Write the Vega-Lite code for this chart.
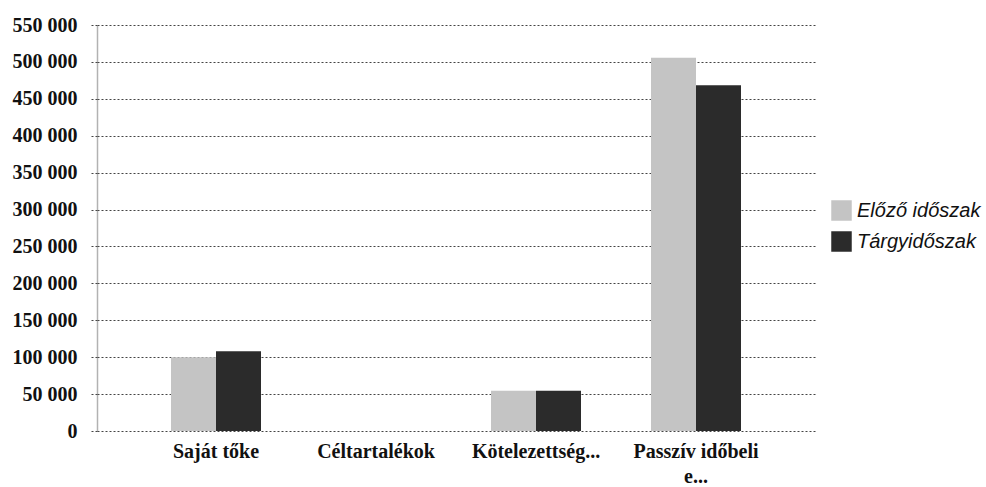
{
  "$schema": "https://vega.github.io/schema/vega-lite/v6.json",
  "width": 718,
  "height": 406,
  "autosize": {"type": "none"},
  "padding": {"left": 97, "top": 25, "right": 171, "bottom": 56},
  "background": "white",
  "config": {"view": {"stroke": null}},
  "data": {"values": [
    {"kategoria": "Saját tőke", "idoszak": "Előző időszak", "ertek": 100000},
    {"kategoria": "Saját tőke", "idoszak": "Tárgyidőszak", "ertek": 108000},
    {"kategoria": "Céltartalékok", "idoszak": "Előző időszak", "ertek": 0},
    {"kategoria": "Céltartalékok", "idoszak": "Tárgyidőszak", "ertek": 0},
    {"kategoria": "Kötelezettség...", "idoszak": "Előző időszak", "ertek": 54500},
    {"kategoria": "Kötelezettség...", "idoszak": "Tárgyidőszak", "ertek": 54500},
    {"kategoria": "Passzív időbeli e...", "idoszak": "Előző időszak", "ertek": 505500},
    {"kategoria": "Passzív időbeli e...", "idoszak": "Tárgyidőszak", "ertek": 468500}
  ]},
  "mark": {"type": "bar"},
  "encoding": {
    "x": {
      "field": "kategoria", "type": "nominal", "sort": null,
      "scale": {"paddingInner": 0.4375, "paddingOuter": 0.4625},
      "axis": {
        "title": null, "labelAngle": 0, "domain": false, "ticks": false,
        "labelFont": "Liberation Serif", "labelFontWeight": "bold", "labelFontSize": 20,
        "labelColor": "#111", "labelPadding": 10, "labelLineHeight": 25,
        "labelExpr": "datum.label == 'Passzív időbeli e...' ? ['Passzív időbeli', 'e...'] : datum.label"
      }
    },
    "xOffset": {"field": "idoszak", "type": "nominal", "sort": ["Előző időszak", "Tárgyidőszak"]},
    "y": {
      "field": "ertek", "type": "quantitative",
      "scale": {"domain": [0, 550000], "nice": false},
      "axis": {
        "title": null, "values": [0, 50000, 100000, 150000, 200000, 250000, 300000, 350000, 400000, 450000, 500000, 550000],
        "labelExpr": "replace(format(datum.value, ','), ',', ' ')",
        "labelFont": "Liberation Serif", "labelFontWeight": "bold", "labelFontSize": 20,
        "labelColor": "#111", "labelPadding": 12,
        "grid": true, "gridColor": "#444", "gridDash": [2, 2], "gridWidth": 1,
        "domainColor": "#666", "domainDash": [1, 1], "domainWidth": 1.5,
        "tickColor": "#444", "tickDash": [2, 2], "tickSize": 8
      }
    },
    "color": {
      "field": "idoszak", "type": "nominal",
      "scale": {"domain": ["Előző időszak", "Tárgyidőszak"], "range": ["#c4c4c4", "#2b2b2b"]},
      "legend": {
        "title": null, "orient": "none", "legendX": 734, "legendY": 175,
        "symbolType": "square", "symbolSize": 420, "symbolStrokeWidth": 0,
        "labelFont": "Liberation Sans", "labelFontStyle": "italic", "labelFontSize": 20,
        "labelColor": "#111", "rowPadding": 10, "labelOffset": 5
      }
    }
  }
}
